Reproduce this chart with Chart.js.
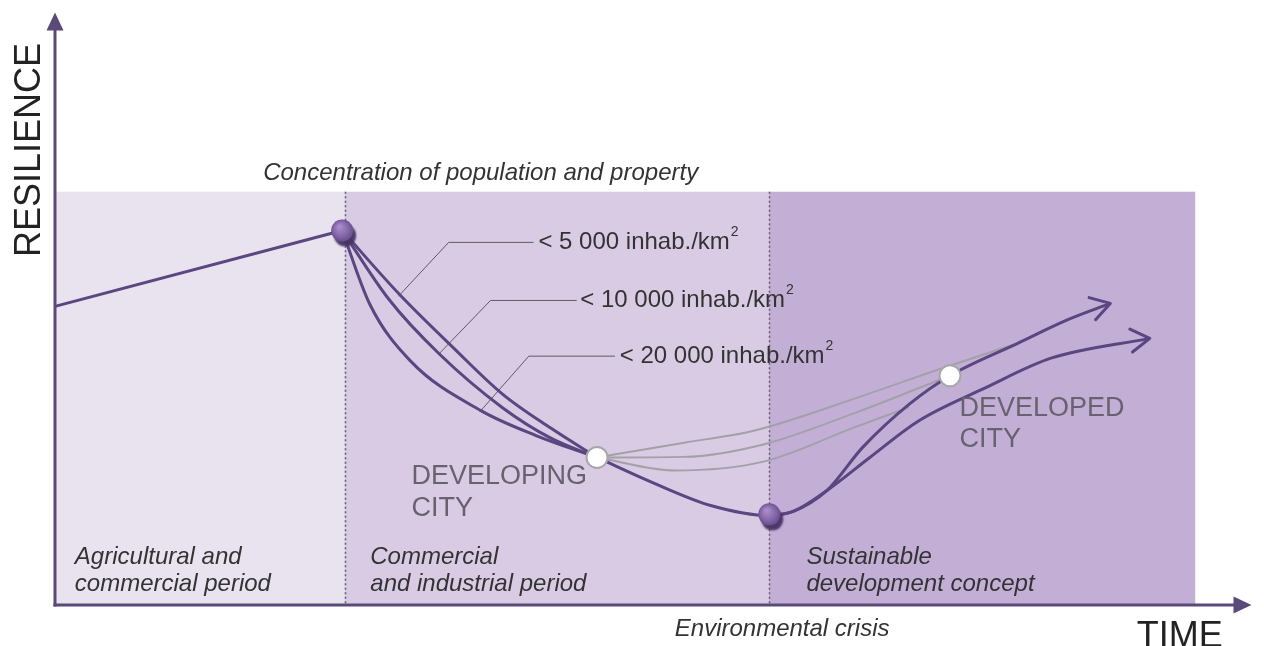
<!DOCTYPE html>
<html><head><meta charset="utf-8">
<script src="https://cdn.jsdelivr.net/npm/chart.js@4/dist/chart.umd.min.js"></script>
<style>html,body{margin:0;padding:0;background:#fff;overflow:hidden}canvas{display:block}</style>
</head><body><canvas id="c" width="1264" height="646" style="width:1264px;height:646px"></canvas>
<script>
// ---------- data (time 0..100, resilience 0..100) ----------
const periodNames = [['Agricultural and','commercial period'],['Commercial','and industrial period'],['Sustainable','development concept']];
const periodBounds = [0, 24.2, 59.65, 95.3];
const periodTop = 69.75;

const agriX = [0, 24.0];
const agriY = [50.4, 63.2];

const d5kX  = [24.0, 28.8, 33.3, 37.4, 41.4, 45.3];
const d5kY  = [63.2, 52.4, 43.4, 35.6, 29.9, 24.9];
const d10kX = [24.0, 27.9, 32.1, 37.4, 41.4, 45.3];
const d10kY = [63.2, 51.6, 42.4, 33.3, 28.2, 24.9];
const d20kX = [24.0, 26.3, 29.7, 35.6, 40.2, 45.3];
const d20kY = [63.2, 50.8, 41.2, 32.8, 28.6, 24.9];

const upperX = [45.3, 49.9, 54.8, 59.7, 61.7, 64.5, 67.5, 71.4, 74.8, 80.5, 84.7, 88.2];
const upperY = [24.9, 20.7, 16.8, 15.1, 15.8, 19.3, 26.6, 33.9, 38.7, 44.2, 48.2, 50.9];
const lowerX = [59.7, 61.7, 64.5, 68.1, 72.2, 77.7, 83.3, 91.5];
const lowerY = [15.1, 15.8, 19.3, 24.9, 31.1, 36.6, 41.7, 45.0];

const grayAX = [45.3, 52.6, 58.4, 67.5, 73.9, 80.2];
const grayAY = [24.9, 27.4, 29.4, 35.3, 39.8, 44.0];
const grayBX = [45.3, 52.6, 59.2, 66.7, 74.8];
const grayBY = [24.9, 25.0, 27.1, 32.3, 38.7];
const grayCX = [45.3, 51.8, 59.2, 66.7, 71.4];
const grayCY = [24.9, 22.7, 24.2, 29.9, 33.4];

const leader5kX = [28.7, 32.9, 40.0];   const leader5kY = [52.1, 61.2, 61.2];
const leader10kX = [32.1, 36.4, 43.6];  const leader10kY = [42.4, 51.4, 51.4];
const leader20kX = [35.5, 39.6, 46.8];  const leader20kY = [32.6, 42.0, 42.0];

const turnX = [24.0, 59.7];   const turnY = [63.2, 15.3];
const cityX = [45.3, 74.8];   const cityY = [24.9, 38.7];

const densityLabels = ['< 5 000 inhab./km', '< 10 000 inhab./km', '< 20 000 inhab./km'];

// ---------- helpers ----------
const zip = (xs, ys) => xs.map((x, i) => ({x, y: ys[i]}));
const PURPLE = '#5a4680';
const GRAY = '#a3a0a8';
const line = (xs, ys, color, width, extra) => Object.assign({
  data: zip(xs, ys), showLine: true, borderColor: color, borderWidth: width,
  pointRadius: 0, pointHoverRadius: 0, cubicInterpolationMode: 'monotone', fill: false, clip: false, order: 5
}, extra || {});

const datasets = [
  line(agriX, agriY, PURPLE, 3, {cubicInterpolationMode: 'default', tension: 0}),
  line(grayAX, grayAY, GRAY, 2, {order: 8}),
  line(grayBX, grayBY, GRAY, 2, {order: 8}),
  line(grayCX, grayCY, GRAY, 2, {order: 8}),
  line(d5kX, d5kY, PURPLE, 3),
  line(d10kX, d10kY, PURPLE, 3),
  line(d20kX, d20kY, PURPLE, 3),
  line(upperX, upperY, PURPLE, 3),
  line(lowerX, lowerY, PURPLE, 3),
  line(leader5kX, leader5kY, '#5f5a66', 1, {cubicInterpolationMode: 'default', tension: 0, order: 9}),
  line(leader10kX, leader10kY, '#5f5a66', 1, {cubicInterpolationMode: 'default', tension: 0, order: 9}),
  line(leader20kX, leader20kY, '#5f5a66', 1, {cubicInterpolationMode: 'default', tension: 0, order: 9}),
  { data: zip(turnX, turnY), showLine: false, pointRadius: 11, pointHoverRadius: 11, borderWidth: 0, clip: false, order: 1,
    pointBorderColor: 'rgba(0,0,0,0)',
    pointBackgroundColor: (ctx) => {
      const ch = ctx.chart;
      if (!ctx.raw || !ch.scales || !ch.scales.x) return '#8466a8';
      const px = ch.scales.x.getPixelForValue(ctx.raw.x), py = ch.scales.y.getPixelForValue(ctx.raw.y);
      if (!isFinite(px) || !isFinite(py)) return '#8466a8';
      const g = ch.ctx.createRadialGradient(px - 3, py - 4, 1, px, py, 12);
      g.addColorStop(0, '#a98cca'); g.addColorStop(0.6, '#8466a8'); g.addColorStop(1, '#614a88');
      return g;
    } },
  { data: zip(cityX, cityY), showLine: false, pointRadius: 10.5, pointHoverRadius: 10.5, clip: false, order: 0,
    pointBackgroundColor: '#ffffff', pointBorderColor: '#a8a6ab', pointBorderWidth: 2 }
];
const SPHERE_INDEX = 12;

const decor = {
  id: 'decor',
  beforeDatasetsDraw(chart) {
    const {ctx, scales: {x, y}} = chart;
    const bandColors = ['#e9e2ef', '#d9cbe4', '#c3afd6'];
    ctx.save();
    for (let i = 0; i < 3; i++) {
      const x0 = x.getPixelForValue(periodBounds[i]), x1 = x.getPixelForValue(periodBounds[i + 1]);
      const y0 = y.getPixelForValue(periodTop), y1 = y.getPixelForValue(0);
      ctx.fillStyle = bandColors[i];
      ctx.fillRect(x0, y0, x1 - x0, y1 - y0);
    }
    ctx.strokeStyle = '#6a6274'; ctx.lineWidth = 1.6; ctx.setLineDash([2, 2.5]);
    [periodBounds[1], periodBounds[2]].forEach(v => {
      const px = Math.round(x.getPixelForValue(v)) + 0.5;
      ctx.beginPath(); ctx.moveTo(px, y.getPixelForValue(periodTop)); ctx.lineTo(px, y.getPixelForValue(0)); ctx.stroke();
    });
    ctx.setLineDash([]);
    const ox = x.getPixelForValue(0), oy = y.getPixelForValue(0);
    const ty = y.getPixelForValue(100), tx = x.getPixelForValue(100);
    ctx.strokeStyle = '#5a4a7a'; ctx.fillStyle = '#5a4a7a'; ctx.lineWidth = 3;
    ctx.beginPath(); ctx.moveTo(ox, oy + 1.5); ctx.lineTo(ox, ty + 14); ctx.stroke();
    ctx.beginPath(); ctx.moveTo(ox - 1.5, oy); ctx.lineTo(tx - 14, oy); ctx.stroke();
    ctx.beginPath(); ctx.moveTo(ox, ty); ctx.lineTo(ox - 8.5, ty + 18); ctx.lineTo(ox + 8.5, ty + 18); ctx.closePath(); ctx.fill();
    ctx.beginPath(); ctx.moveTo(tx, oy); ctx.lineTo(tx - 18, oy - 8.5); ctx.lineTo(tx - 18, oy + 8.5); ctx.closePath(); ctx.fill();
    ctx.restore();
  },
  beforeDatasetDraw(chart, args) {
    if (args.index === SPHERE_INDEX) {
      const ctx = chart.ctx; ctx.save();
      ctx.shadowColor = 'rgba(70,50,100,0.95)'; ctx.shadowOffsetX = 3; ctx.shadowOffsetY = 5; ctx.shadowBlur = 2;
    }
  },
  afterDatasetDraw(chart, args) {
    if (args.index === SPHERE_INDEX) chart.ctx.restore();
  },
  afterDatasetsDraw(chart) {
    const {ctx, scales: {x, y}} = chart;
    ctx.save();
    [7, 8].forEach(i => {
      const pts = chart.getDatasetMeta(i).data;
      const a = pts[pts.length - 2], b = pts[pts.length - 1];
      const ang = Math.atan2(b.y - a.y, b.x - a.x) + 0.08;
      ctx.strokeStyle = PURPLE; ctx.lineWidth = 3; ctx.lineCap = 'round'; ctx.lineJoin = 'round';
      ctx.beginPath();
      ctx.moveTo(b.x - 22 * Math.cos(ang - 0.55), b.y - 22 * Math.sin(ang - 0.55));
      ctx.lineTo(b.x, b.y);
      ctx.lineTo(b.x - 22 * Math.cos(ang + 0.55), b.y - 22 * Math.sin(ang + 0.55));
      ctx.stroke();
    });
    const txt = (s, vx, vy, font, color, align, base) => {
      ctx.font = font; ctx.fillStyle = color; ctx.textAlign = align || 'left'; ctx.textBaseline = base || 'alphabetic';
      ctx.fillText(s, x.getPixelForValue(vx), y.getPixelForValue(vy));
    };
    const IT = 'italic 24px "Liberation Sans", Arial, sans-serif';
    const DARK = '#333333';
    txt('Concentration of population and property', 17.4, 71.8, IT, DARK);
    txt('Environmental crisis', 51.8, -5.2, IT, DARK);
    const periodX = [1.66, 26.35, 62.8];
    periodNames.forEach((p, i) => { txt(p[0], periodX[i], 6.9, IT, DARK); txt(p[1], periodX[i], 2.35, IT, DARK); });
    const CITYF = '27px "Liberation Sans", Arial, sans-serif';
    const CITYC = '#68616f';
    txt('DEVELOPING', 29.8, 20.5, CITYF, CITYC); txt('CITY', 29.8, 15.1, CITYF, CITYC);
    txt('DEVELOPED', 75.6, 31.9, CITYF, CITYC); txt('CITY', 75.6, 26.6, CITYF, CITYC);
    const labX = [40.4, 43.9, 47.2], labY = [61.2, 51.4, 42.0];
    densityLabels.forEach((s, i) => {
      const f = '24px "Liberation Sans", Arial, sans-serif';
      txt(s, labX[i], labY[i], f, DARK, 'left', 'middle');
      ctx.font = f; const w = ctx.measureText(s).width;
      ctx.font = '14px "Liberation Sans", Arial, sans-serif'; ctx.textBaseline = 'middle';
      ctx.fillText('2', x.getPixelForValue(labX[i]) + w + 1, y.getPixelForValue(labY[i]) - 10);
    });
    txt('TIME', 97.6, -7.06, '36px "Liberation Sans", Arial, sans-serif', '#222222', 'right');
    ctx.save();
    ctx.translate(x.getPixelForValue(-2.07), y.getPixelForValue(76.8));
    ctx.rotate(-Math.PI / 2);
    ctx.font = '36px "Liberation Sans", Arial, sans-serif'; ctx.fillStyle = '#222222';
    ctx.textAlign = 'center'; ctx.textBaseline = 'middle';
    ctx.fillText('RESILIENCE', 0, 0);
    ctx.restore();
    ctx.restore();
  }
};

new Chart(document.getElementById('c'), {
  type: 'scatter',
  data: { datasets },
  options: {
    responsive: false, maintainAspectRatio: false, animation: false, devicePixelRatio: 1,
    events: [],
    layout: { padding: { left: 55, right: 2, top: 10, bottom: 41 } },
    scales: {
      x: { type: 'linear', min: 0, max: 100, display: false },
      y: { type: 'linear', min: 0, max: 100, display: false }
    },
    plugins: { legend: { display: false }, tooltip: { enabled: false } }
  },
  plugins: [decor]
});
</script></body></html>
